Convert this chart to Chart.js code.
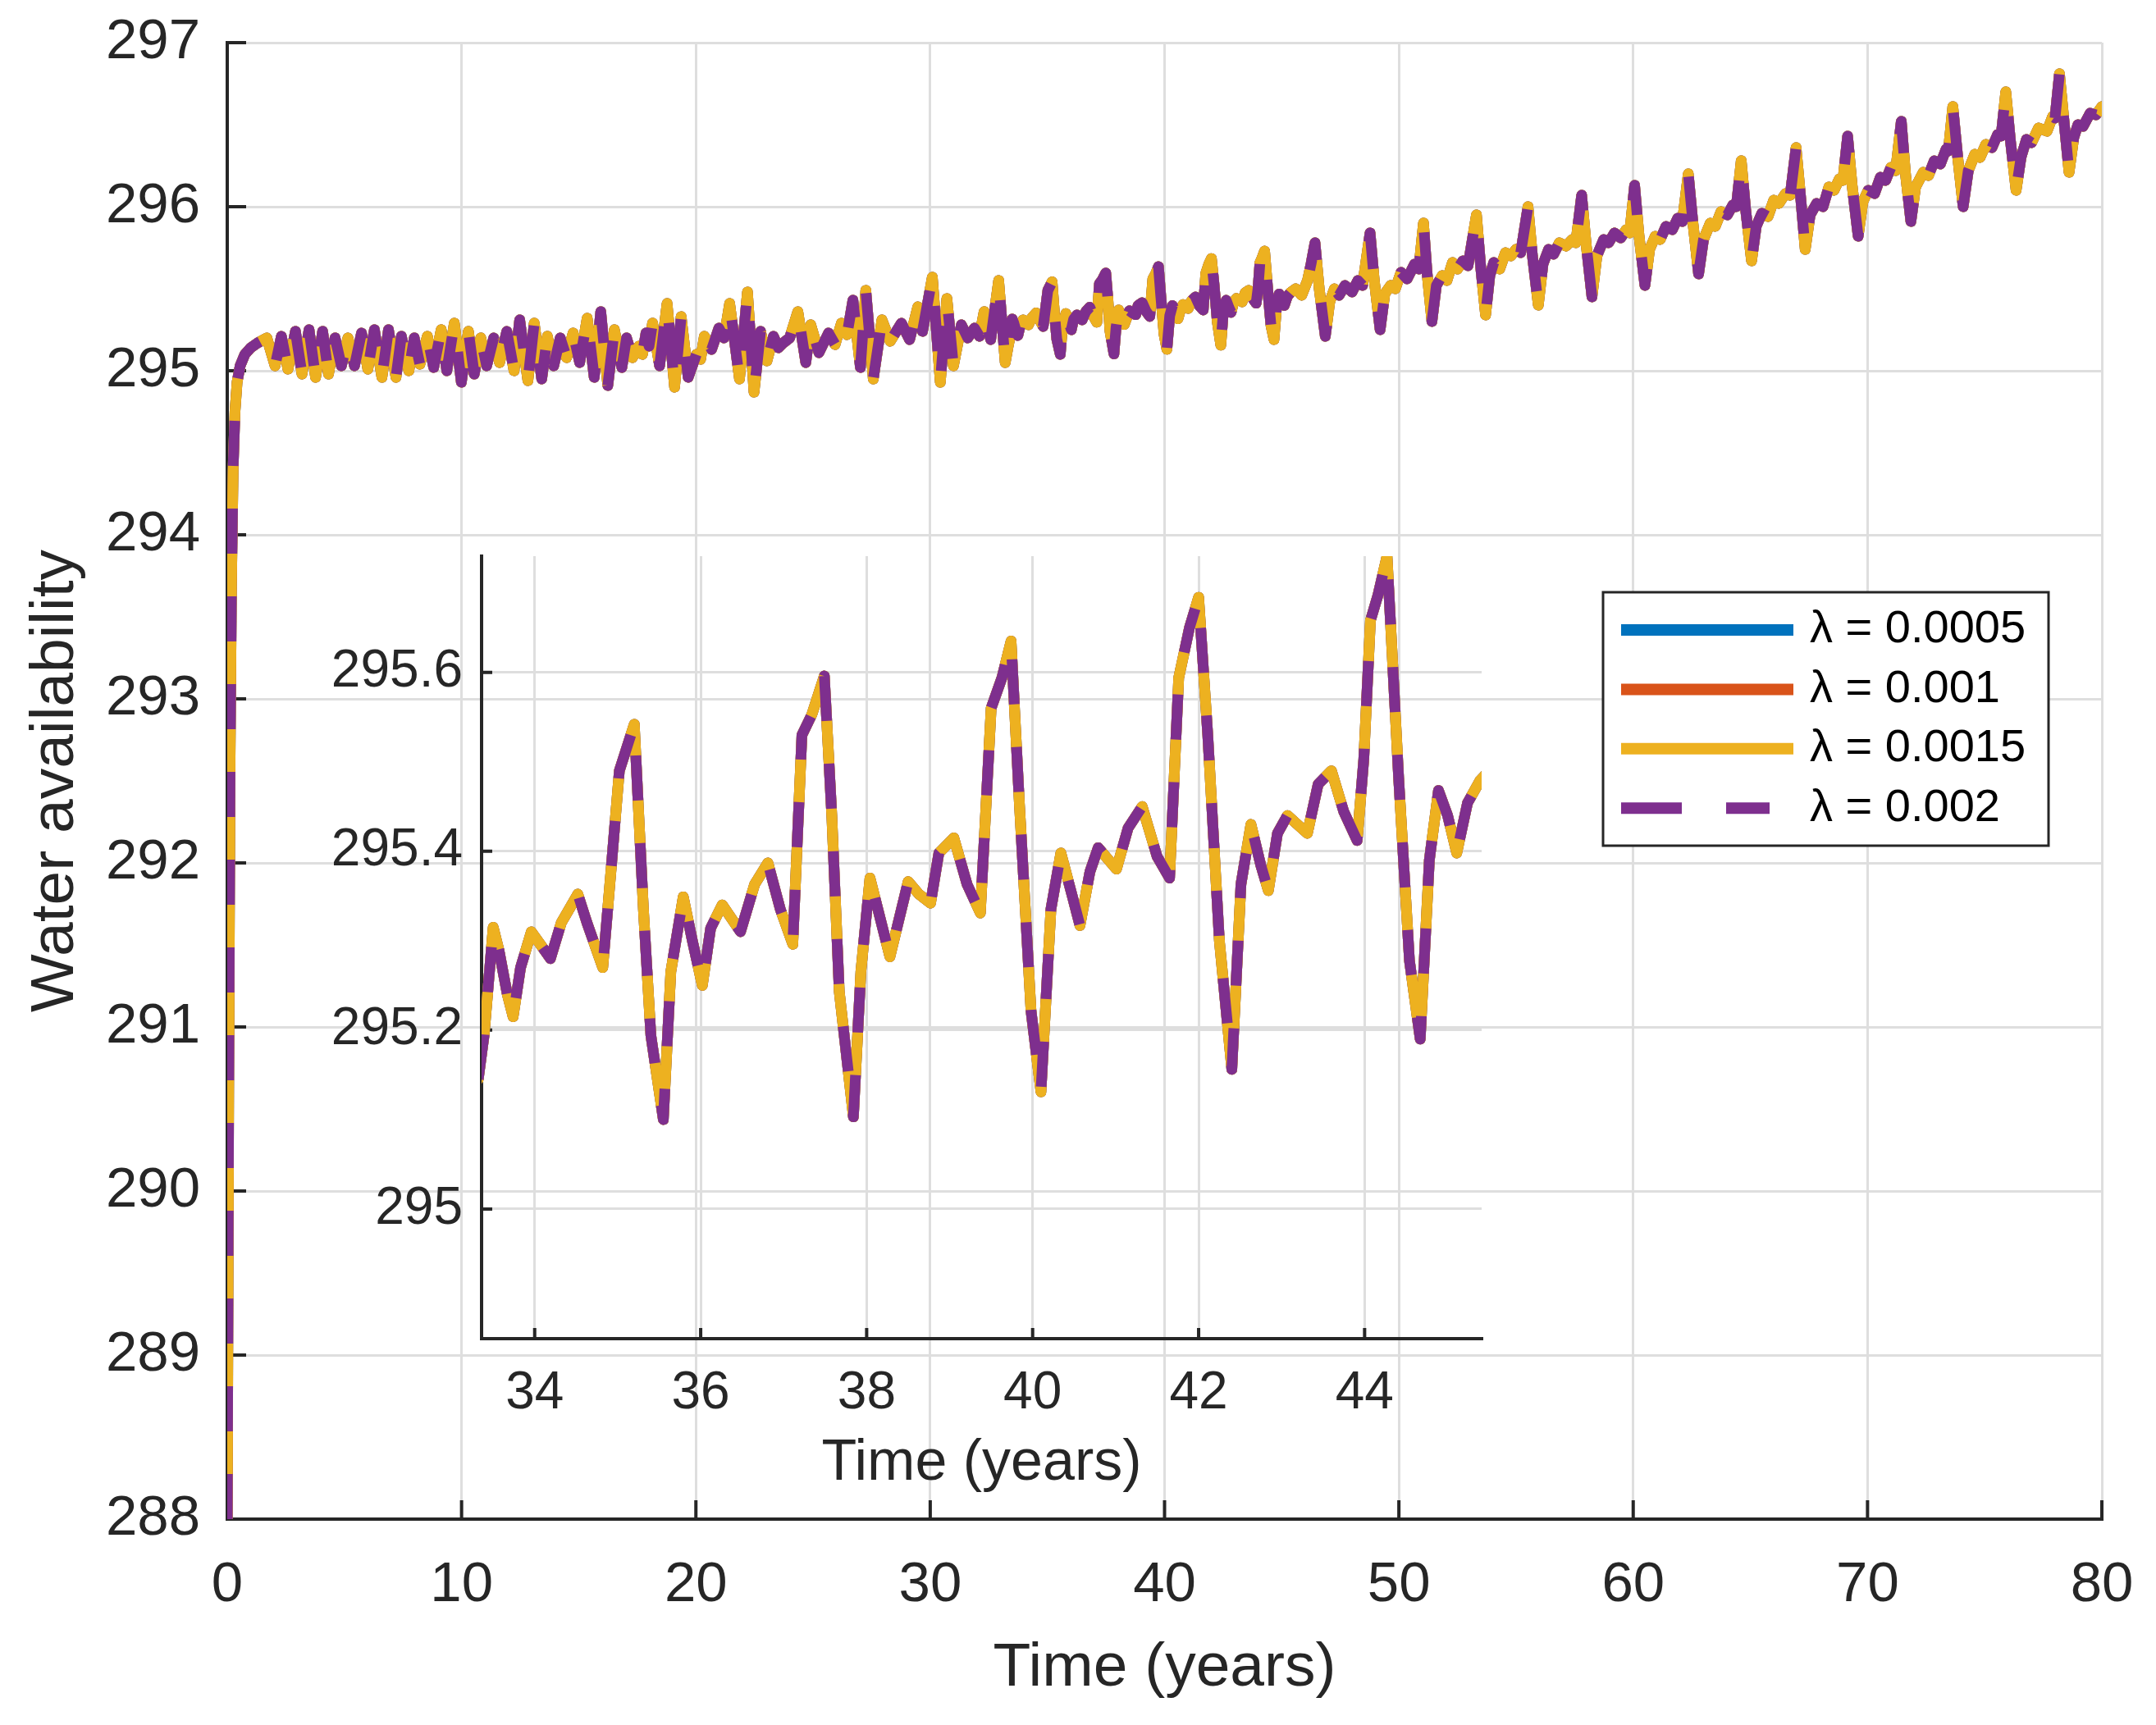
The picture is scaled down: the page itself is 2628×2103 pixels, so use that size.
<!DOCTYPE html>
<html>
<head>
<meta charset="utf-8">
<title>Water availability</title>
<script src="https://cdn.jsdelivr.net/npm/chart.js@4.4.1/dist/chart.umd.min.js"></script>
<style>
    body { margin: 0; background: #fff; }
    #wrap { position: relative; width: 2628px; height: 2103px; }
    canvas { position: absolute; }
</style>
</head>
<body>
<div id="wrap">
    <canvas id="mainChart" width="2628" height="2103" style="left:0;top:0"></canvas>
    <canvas id="insetChart" width="1480" height="1200" style="left:380px;top:640px"></canvas>
</div>
<script>
// ================= DATA =================
// time (years) and water availability (all four lambda curves coincide)
const timeYears = [
    0, 0.06, 0.12, 0.18, 0.25, 0.33, 0.42, 0.55, 0.75, 1.0,
    1.3, 1.69, 2.04, 2.31, 2.59, 2.91, 3.19, 3.49, 3.77, 4.07,
    4.32, 4.6, 4.87, 5.15, 5.43, 5.73, 6.0, 6.28, 6.6, 6.88,
    7.2, 7.43, 7.75, 7.98, 8.22, 8.54, 8.81, 9.13, 9.37, 9.69,
    9.99, 10.29, 10.54, 10.82, 11.07, 11.37, 11.62, 11.93, 12.24, 12.48,
    12.83, 13.1, 13.42, 13.66, 13.93, 14.21, 14.48, 14.76, 15.04, 15.36,
    15.66, 15.94, 16.24, 16.52, 16.84, 17.04, 17.29, 17.57, 17.72, 17.87,
    18.0, 18.15, 18.45, 18.77, 19.09, 19.37, 19.67, 20.02, 20.2, 20.36,
    20.67, 20.98, 21.2, 21.44, 21.65, 21.86, 22.2, 22.48, 22.76, 23.03,
    23.31, 23.52, 23.73, 24.0, 24.35, 24.69, 24.9, 25.25, 25.66, 25.94,
    26.21, 26.45, 26.7, 27.02, 27.25, 27.57, 27.94, 28.29, 28.77,
    29.12, 29.47, 29.67, 30.09, 30.43, 30.71, 30.99, 31.33, 31.6, 31.89,
    32.1, 32.3, 32.58, 32.92, 33.2,
    33.32, 33.39, 33.5, 33.57, 33.67, 33.74, 33.83, 33.96, 34.19, 34.32,
    34.52, 34.63, 34.82, 34.93, 35.02, 35.2, 35.31, 35.4, 35.55, 35.64,
    35.79, 35.9, 36.02, 36.12, 36.26, 36.48, 36.65, 36.81, 36.96, 37.11,
    37.22, 37.34, 37.49, 37.58, 37.67, 37.84, 37.93, 38.04, 38.28, 38.5,
    38.63, 38.77, 38.87, 39.05, 39.21, 39.37, 39.5, 39.63, 39.74, 39.84,
    39.98, 40.1, 40.22, 40.34, 40.48, 40.57, 40.69, 40.79, 41.01, 41.15,
    41.32, 41.5, 41.65, 41.76, 41.89, 42.0, 42.11, 42.25, 42.4, 42.51,
    42.63, 42.75, 42.84, 42.95, 43.07, 43.31, 43.44, 43.6, 43.75, 43.91,
    43.99, 44.07, 44.16, 44.27, 44.41, 44.54, 44.67, 44.78, 44.89, 45.0,
    45.11, 45.24, 45.39,
    45.6, 45.85, 46.1, 46.25, 46.42, 46.6, 46.86, 47.05, 47.25, 47.45,
    47.7, 48.0, 48.25, 48.45, 48.77, 48.95, 49.2, 49.4, 49.65, 49.85,
    50.09, 50.35, 50.67, 50.85, 51.05, 51.2, 51.41, 51.6, 51.85, 52.05,
    52.29, 52.5, 52.73, 52.95, 53.31, 53.5, 53.7, 53.88, 54.05, 54.3,
    54.55, 54.78, 55.0, 55.2, 55.51, 55.7, 55.95, 56.15, 56.39, 56.6,
    56.85, 57.13, 57.4, 57.55, 57.8, 58.0, 58.24, 58.45, 58.74, 58.95,
    59.2, 59.47, 59.7, 59.85, 60.06, 60.25, 60.5, 60.7, 60.94, 61.15,
    61.4, 61.67, 61.9, 62.1, 62.35, 62.55, 62.79, 63.0, 63.29, 63.5,
    63.75, 64.02, 64.25, 64.4, 64.61, 64.8, 65.05, 65.25, 65.49, 65.75,
    66.0, 66.22, 66.5, 66.7, 66.95, 67.15, 67.34, 67.55, 67.83, 68.1,
    68.35, 68.57, 68.8, 68.95, 69.15, 69.35, 69.6, 69.8, 70.03, 70.3,
    70.55, 70.77, 71.0, 71.2, 71.44, 71.62, 71.85, 72.05, 72.38, 72.6,
    72.85, 73.11, 73.35, 73.45, 73.64, 73.85, 74.08, 74.3, 74.58, 74.8,
    75.05, 75.31, 75.55, 75.7, 75.9, 76.1, 76.34, 76.55, 76.78, 77.0,
    77.3, 77.66, 77.9, 78.0, 78.19, 78.4, 78.6, 78.8, 78.98, 79.2,
    79.5, 79.75, 80.0
];
const waterLevel = [
    288.0, 290.6, 292.6, 293.7, 294.4, 294.75, 294.93, 295.03, 295.1, 295.14,
    295.17, 295.2, 295.03, 295.21, 295.01, 295.24, 294.98, 295.25, 294.96, 295.24,
    294.98, 295.2, 295.03, 295.2, 295.03, 295.23, 295.01, 295.25, 294.96, 295.25,
    294.96, 295.21, 295.0, 295.2, 295.04, 295.21, 295.02, 295.25, 295.0, 295.29,
    294.93, 295.24, 294.98, 295.2, 295.03, 295.2, 295.05, 295.24, 295.0, 295.31,
    294.94, 295.29, 294.95, 295.21, 295.03, 295.2, 295.08, 295.23, 295.05, 295.32,
    294.96, 295.36, 294.91, 295.25, 295.02, 295.2, 295.08, 295.15, 295.1, 295.23,
    295.15, 295.29, 295.03, 295.41, 294.9, 295.33, 294.96, 295.1, 295.07, 295.21,
    295.13, 295.26, 295.2, 295.41, 295.18, 294.95, 295.48, 294.87, 295.24, 295.06,
    295.21, 295.14, 295.17, 295.2, 295.36, 295.05, 295.28, 295.11, 295.23, 295.16,
    295.29, 295.22, 295.43, 295.02, 295.49, 294.95, 295.31, 295.18, 295.29,
    295.19, 295.39, 295.24, 295.57, 294.93, 295.44, 295.03, 295.28, 295.2, 295.26,
    295.21, 295.36, 295.19, 295.55, 295.05,
    295.145, 295.194, 295.315, 295.289, 295.24, 295.215, 295.27, 295.31, 295.28, 295.32,
    295.352, 295.32, 295.27, 295.39, 295.49, 295.542, 295.335, 295.194, 295.1, 295.265,
    295.349, 295.3, 295.25, 295.314, 295.34, 295.31, 295.363, 295.387, 295.335, 295.296,
    295.53, 295.553, 295.596, 295.44, 295.243, 295.103, 295.265, 295.37, 295.282, 295.366,
    295.352, 295.342, 295.398, 295.415, 295.363, 295.331, 295.56, 295.594, 295.635, 295.454,
    295.222, 295.131, 295.335, 295.398, 295.349, 295.317, 295.377, 295.404, 295.38, 295.426,
    295.45, 295.394, 295.37, 295.594, 295.65, 295.684, 295.53, 295.3, 295.156, 295.363,
    295.43, 295.384, 295.356, 295.42, 295.44, 295.42, 295.475, 295.49, 295.444, 295.412,
    295.503, 295.658, 295.686, 295.73, 295.482, 295.278, 295.19, 295.39, 295.468, 295.44,
    295.398, 295.454, 295.479,
    295.5, 295.46, 295.55, 295.65, 295.78, 295.5, 295.21, 295.42, 295.5, 295.46,
    295.52, 295.48, 295.55, 295.52, 295.84, 295.55, 295.25, 295.47, 295.52, 295.5,
    295.6, 295.56, 295.65, 295.62, 295.9, 295.6, 295.3, 295.52, 295.58, 295.55,
    295.66, 295.62, 295.67, 295.64, 295.95, 295.62, 295.34, 295.58, 295.66, 295.62,
    295.72, 295.7, 295.74, 295.72, 296.0, 295.7, 295.4, 295.65, 295.74, 295.71,
    295.78, 295.76, 295.8, 295.78, 296.07, 295.76, 295.45, 295.7, 295.8, 295.78,
    295.84, 295.81, 295.86, 295.84, 296.13, 295.82, 295.52, 295.74, 295.82, 295.8,
    295.88, 295.86, 295.93, 295.91, 296.2, 295.9, 295.59, 295.8, 295.9, 295.88,
    295.97, 295.95, 296.01, 296.0, 296.28, 295.98, 295.67, 295.88, 295.96, 295.94,
    296.04, 296.02, 296.08, 296.07, 296.36, 296.05, 295.74, 295.95, 296.02, 296.0,
    296.12, 296.1, 296.17, 296.16, 296.43, 296.12, 295.82, 296.03, 296.1, 296.08,
    296.18, 296.16, 296.24, 296.22, 296.52, 296.2, 295.91, 296.12, 296.21, 296.19,
    296.28, 296.26, 296.35, 296.34, 296.61, 296.3, 296.0, 296.22, 296.32, 296.3,
    296.38, 296.36, 296.44, 296.43, 296.7, 296.4, 296.1, 296.3, 296.41, 296.39,
    296.48, 296.46, 296.55, 296.54, 296.81, 296.5, 296.21, 296.42, 296.5, 296.49,
    296.57, 296.56, 296.61
];

const lambdaLabels = ['λ = 0.0005', 'λ = 0.001', 'λ = 0.0015', 'λ = 0.002'];
const lineColors = ['#0072BD', '#D95319', '#EDB120', '#7E2F8E'];

const mainXTicks = [0, 10, 20, 30, 40, 50, 60, 70, 80];
const mainYTicks = [288, 289, 290, 291, 292, 293, 294, 295, 296, 297];
const insetXTicks = [34, 36, 38, 40, 42, 44];
const insetYTicks = [295, 295.2, 295.4, 295.6];
const insetYLabels = ['295', '295.2', '295.4', '295.6'];

// ================= HELPERS =================
Chart.defaults.font.family = '"Liberation Sans", Arial, Helvetica, sans-serif';
Chart.defaults.color = '#262626';

const AXIS_COLOR = '#262626';
const GRID_COLOR = '#dedede';

function makeDatasets(lineWidth, dash) {
    return lambdaLabels.map((label, i) => ({
        label,
        data: timeYears.map((t, k) => ({ x: t, y: waterLevel[k] })),
        borderColor: lineColors[i],
        borderWidth: lineWidth,
        borderDash: i === 3 ? dash : [],
        borderCapStyle: i === 3 ? 'butt' : 'round',
        borderJoinStyle: 'round',
        pointRadius: 0,
        tension: 0,
        order: 3 - i   // purple dashed on top
    }));
}

// lineHeight of the tick font is used to place x labels (padding 0) and keep y labels from padding the chart
function axis(o) {
    return {
        type: 'linear',
        min: o.min,
        max: o.max,
        afterBuildTicks: s => { s.ticks = o.ticks.map(v => ({ value: v })); },
        afterFit: s => { if (o.width) s.width = o.width; if (o.height) s.height = o.height; },
        grid: { color: GRID_COLOR, lineWidth: 3, drawTicks: false },
        border: { display: true, color: AXIS_COLOR, width: 4 },
        ticks: {
            autoSkip: false,
            maxRotation: 0,
            padding: o.pad,
            font: { size: o.tickSize, lineHeight: o.tickLH },
            color: AXIS_COLOR,
            callback: v => o.labels ? o.labels[o.ticks.indexOf(v)] : String(v)
        },
        title: {
            display: !!o.title,
            text: o.title || '',
            color: AXIS_COLOR,
            font: { size: o.titleSize || 12, lineHeight: 1.2 },
            padding: o.titlePad || 0
        }
    };
}

// MATLAB-style ticks pointing into the plot
const inwardTicks = {
    id: 'inwardTicks',
    beforeDatasetsDraw(chart, args, opts) {
        const { ctx, chartArea } = chart;
        const xs = chart.scales.x, ys = chart.scales.y;
        ctx.save();
        ctx.strokeStyle = AXIS_COLOR;
        ctx.lineWidth = 4;
        ctx.beginPath();
        xs.ticks.forEach(t => {
            const px = xs.getPixelForValue(t.value);
            ctx.moveTo(px, chartArea.bottom);
            ctx.lineTo(px, chartArea.bottom - opts.length);
        });
        ys.ticks.forEach(t => {
            const py = ys.getPixelForValue(t.value);
            ctx.moveTo(chartArea.left, py);
            ctx.lineTo(chartArea.left + opts.length, py);
        });
        ctx.stroke();
        ctx.restore();
    }
};

const boxLegend = {
    id: 'boxLegend',
    afterDraw(chart, args, opts) {
        if (!opts.show) return;
        const { ctx } = chart;
        const { left, top, width, height } = opts;
        ctx.save();
        ctx.fillStyle = '#fff';
        ctx.fillRect(left, top, width, height);
        ctx.strokeStyle = AXIS_COLOR;
        ctx.lineWidth = 3;
        ctx.strokeRect(left, top, width, height);
        chart.data.datasets.forEach((ds, i) => {
            const rowY = top + 46 + i * 72.4;
            const dashed = ds.borderDash.length > 0;
            ctx.strokeStyle = ds.borderColor;
            ctx.lineWidth = 14;
            ctx.lineCap = 'butt';
            ctx.setLineDash(dashed ? [74, 54] : []);
            ctx.beginPath();
            ctx.moveTo(left + 22, rowY);
            ctx.lineTo(left + (dashed ? 203 : 232), rowY);
            ctx.stroke();
            ctx.setLineDash([]);
            ctx.fillStyle = '#000';
            ctx.font = '56px "Liberation Sans", Arial, sans-serif';
            ctx.textAlign = 'left';
            ctx.textBaseline = 'middle';
            ctx.fillText(ds.label, left + 252, rowY);
        });
        ctx.restore();
    }
};

// ================= MAIN CHART =================
new Chart(document.getElementById('mainChart'), {
    type: 'line',
    data: { datasets: makeDatasets(13, [55, 52]) },
    plugins: [inwardTicks, boxLegend],
    options: {
        responsive: false,
        animation: false,
        devicePixelRatio: 1,
        layout: { padding: { top: 52, right: 66, bottom: 0, left: 0 } },
        scales: {
            x: axis({ min: 0, max: 80, ticks: mainXTicks, height: 251, pad: 0, tickSize: 69, tickLH: 2.36,
                      title: 'Time (years)', titleSize: 75, titlePad: { top: 0, bottom: 24 } }),
            y: axis({ min: 288, max: 297, ticks: mainYTicks, width: 277, pad: 33, tickSize: 69, tickLH: 0.5,
                      title: 'Water availability', titleSize: 75, titlePad: { top: 23, bottom: 0 } })
        },
        plugins: {
            legend: { display: false },
            tooltip: { enabled: false },
            inwardTicks: { length: 23 },
            boxLegend: { show: true, left: 1954, top: 722, width: 543, height: 309 }
        }
    }
});

// ================= INSET =================
new Chart(document.getElementById('insetChart'), {
    type: 'line',
    data: { datasets: makeDatasets(13, [55, 52]) },
    plugins: [inwardTicks],
    options: {
        responsive: false,
        animation: false,
        devicePixelRatio: 1,
        layout: { padding: { top: 38, right: 54, bottom: 0, left: 0 } },
        scales: {
            x: axis({ min: 33.36, max: 45.41, ticks: insetXTicks, height: 208, pad: 0, tickSize: 64, tickLH: 2.09,
                      title: 'Time (years)', titleSize: 70, titlePad: { top: 0, bottom: 13 } }),
            y: axis({ min: 294.855, max: 295.73, ticks: insetYTicks, labels: insetYLabels, width: 207,
                      pad: 23, tickSize: 64, tickLH: 0.4 })
        },
        plugins: {
            legend: { display: false },
            tooltip: { enabled: false },
            inwardTicks: { length: 13 }
        }
    }
});
</script>
</body>
</html>
